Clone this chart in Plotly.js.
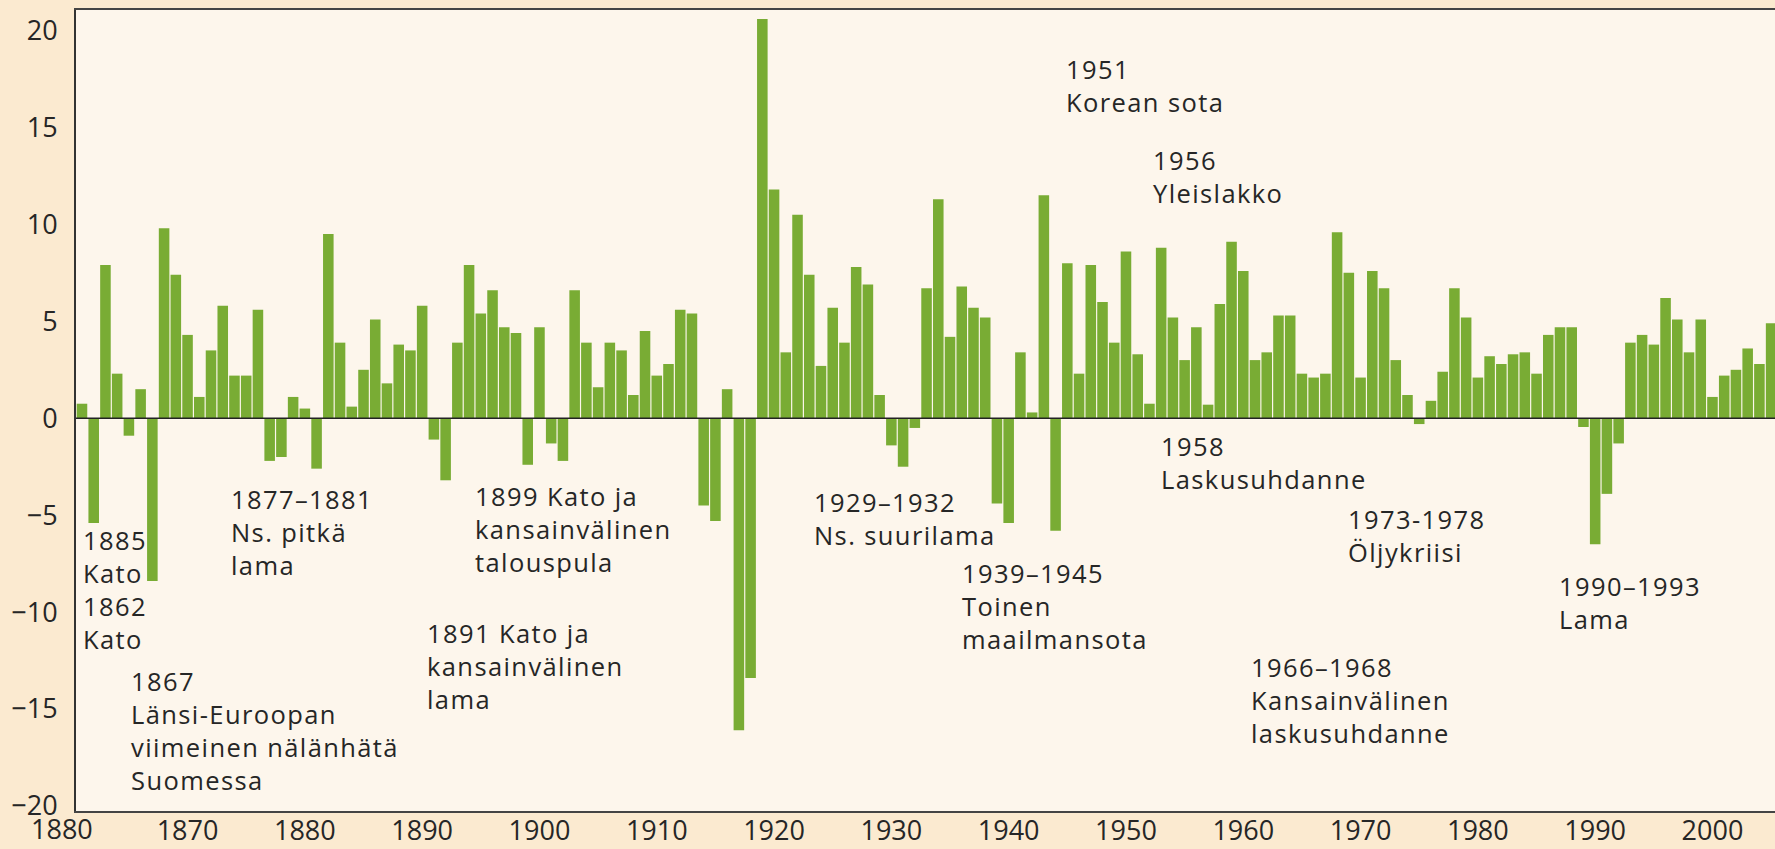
<!DOCTYPE html>
<html>
<head>
<meta charset="utf-8">
<script src="https://cdn.plot.ly/plotly-3.0.1.min.js"></script>
<style>
  html, body { margin: 0; padding: 0; background: #fbead0; }
  #chart { width: 1775px; height: 849px; }
  .annotation:not([data-index="0"]) .annotation-text { letter-spacing: 1.4px; }
</style>
</head>
<body>
<div id="chart"></div>
<script>
// ---- data ----
const years = [
  1861,1862,1863,1864,1865,1866,1867,1868,1869,1870,
  1871,1872,1873,1874,1875,1876,1877,1878,1879,1880,
  1881,1882,1883,1884,1885,1886,1887,1888,1889,1890,
  1891,1892,1893,1894,1895,1896,1897,1898,1899,1900,
  1901,1902,1903,1904,1905,1906,1907,1908,1909,1910,
  1911,1912,1913,1914,1915,1916,1917,1918,1919,1920,
  1921,1922,1923,1924,1925,1926,1927,1928,1929,1930,
  1931,1932,1933,1934,1935,1936,1937,1938,1939,1940,
  1941,1942,1943,1944,1945,1946,1947,1948,1949,1950,
  1951,1952,1953,1954,1955,1956,1957,1958,1959,1960,
  1961,1962,1963,1964,1965,1966,1967,1968,1969,1970,
  1971,1972,1973,1974,1975,1976,1977,1978,1979,1980,
  1981,1982,1983,1984,1985,1986,1987,1988,1989,1990,
  1991,1992,1993,1994,1995,1996,1997,1998,1999,2000,
  2001,2002,2003,2004,2005
];
const growth = [
  0.75,-5.4,7.9,2.3,-0.9,1.5,-8.4,9.8,7.4,4.3,
  1.1,3.5,5.8,2.2,2.2,5.6,-2.2,-2.0,1.1,0.5,
  -2.6,9.5,3.9,0.6,2.5,5.1,1.8,3.8,3.5,5.8,
  -1.1,-3.2,3.9,7.9,5.4,6.6,4.7,4.4,-2.4,4.7,
  -1.3,-2.2,6.6,3.9,1.6,3.9,3.5,1.2,4.5,2.2,
  2.8,5.6,5.4,-4.5,-5.3,1.5,-16.1,-13.4,20.6,11.8,
  3.4,10.5,7.4,2.7,5.7,3.9,7.8,6.9,1.2,-1.4,
  -2.5,-0.5,6.7,11.3,4.2,6.8,5.7,5.2,-4.4,-5.4,
  3.4,0.3,11.5,-5.8,8.0,2.3,7.9,6.0,3.9,8.6,
  3.3,0.75,8.8,5.2,3.0,4.7,0.7,5.9,9.1,7.6,
  3.0,3.4,5.3,5.3,2.3,2.1,2.3,9.6,7.5,2.1,
  7.6,6.7,3.0,1.2,-0.3,0.9,2.4,6.7,5.2,2.1,
  3.2,2.8,3.3,3.4,2.3,4.3,4.7,4.7,-0.45,-6.5,
  -3.9,-1.3,3.9,4.3,3.8,6.2,5.1,3.4,5.1,1.1,
  2.2,2.5,3.6,2.8,4.9
];
const xTickVals = [1860,1870,1880,1890,1900,1910,1920,1930,1940,1950,1960,1970,1980,1990,2000];
const xTickText = ['1880','1870','1880','1890','1900','1910','1920','1930','1940','1950','1960','1970','1980','1990','2000'];
const yTickVals = [-20,-15,-10,-5,0,5,10,15,20];

// event labels
const noteLines = [
  ['1885','Kato','1862','Kato'],
  ['1867','Länsi-Euroopan','viimeinen nälänhätä','Suomessa'],
  ['1877–1881','Ns. pitkä','lama'],
  ['1891 Kato ja','kansainvälinen','lama'],
  ['1899 Kato ja','kansainvälinen','talouspula'],
  ['1929–1932','Ns. suurilama'],
  ['1939–1945','Toinen','maailmansota'],
  ['1951','Korean sota'],
  ['1956','Yleislakko'],
  ['1958','Laskusuhdanne'],
  ['1966–1968','Kansainvälinen','laskusuhdanne'],
  ['1973-1978','Öljykriisi'],
  ['1990–1993','Lama']
];
const noteX = [1861.17,1865.30,1873.76,1890.49,1894.59,1923.49,1936.11,1944.94,1952.39,1953.04,1960.72,1969.01,1987.0];
const noteY = [-6.39,-13.66,-4.28,-11.16,-4.12,-4.41,-8.09,17.92,13.23,-1.55,-12.92,-5.31,-8.73];

// ---- chart ----
const FONT = '"Open Sans", "Noto Sans", sans-serif';
const TXT = '#262626';
const NOTE_SIZE = 25.5;
const NOTE_LH = NOTE_SIZE * 1.3;

const annotations = [];
// first x tick label lies left of the plot edge
annotations.push({
  x: 0, y: 0, xref: 'paper', yref: 'paper',
  text: xTickText[0], showarrow: false, xanchor: 'center', yanchor: 'middle',
  xshift: -14, yshift: -17,
  font: {family: FONT, size: 27, color: TXT}
});
noteLines.forEach((lines, i) => {
  annotations.push({
    x: noteX[i], y: noteY[i], xref: 'x', yref: 'y',
    text: lines.join('<br>'), showarrow: false, align: 'left',
    xanchor: 'left', yanchor: 'middle',
    xshift: -2, yshift: 2 - (lines.length - 1) * NOTE_LH / 2,
    borderpad: 0,
    font: {family: FONT, size: NOTE_SIZE, color: TXT}
  });
});

const trace = {
  type: 'bar', x: years, y: growth,
  marker: {color: '#79ac34', line: {width: 0}},
  hoverinfo: 'x+y'
};

const layout = {
  width: 1775, height: 849,
  margin: {l: 76, r: 0, t: 10, b: 38, pad: 0},
  paper_bgcolor: '#fbead0',
  plot_bgcolor: '#fdf6ec',
  bargap: 0.1,
  showlegend: false,
  font: {family: FONT, size: 27, color: TXT},
  xaxis: {
    range: [1860.49, 2005.33],
    tickmode: 'array', tickvals: xTickVals, ticktext: xTickText,
    ticks: '', showgrid: false, zeroline: false,
    showline: true, linecolor: '#444', linewidth: 2, mirror: true,
    tickfont: {family: FONT, size: 27, color: TXT},
    ticklabelstandoff: -5
  },
  yaxis: {
    range: [-20.26, 21.06],
    tickmode: 'array', tickvals: yTickVals,
    ticks: '', showgrid: false, zeroline: false,
    showline: true, linecolor: '#333', linewidth: 2, mirror: false,
    tickfont: {family: FONT, size: 27, color: TXT},
    ticklabelstandoff: 11
  },
  shapes: [{
    type: 'line', xref: 'paper', yref: 'y', x0: 0, x1: 1, y0: 0, y1: 0,
    line: {color: '#222', width: 1.5}, layer: 'above'
  }],
  annotations: annotations
};

Plotly.newPlot('chart', [trace], layout, {displayModeBar: false, staticPlot: true});
</script>
</body>
</html>
